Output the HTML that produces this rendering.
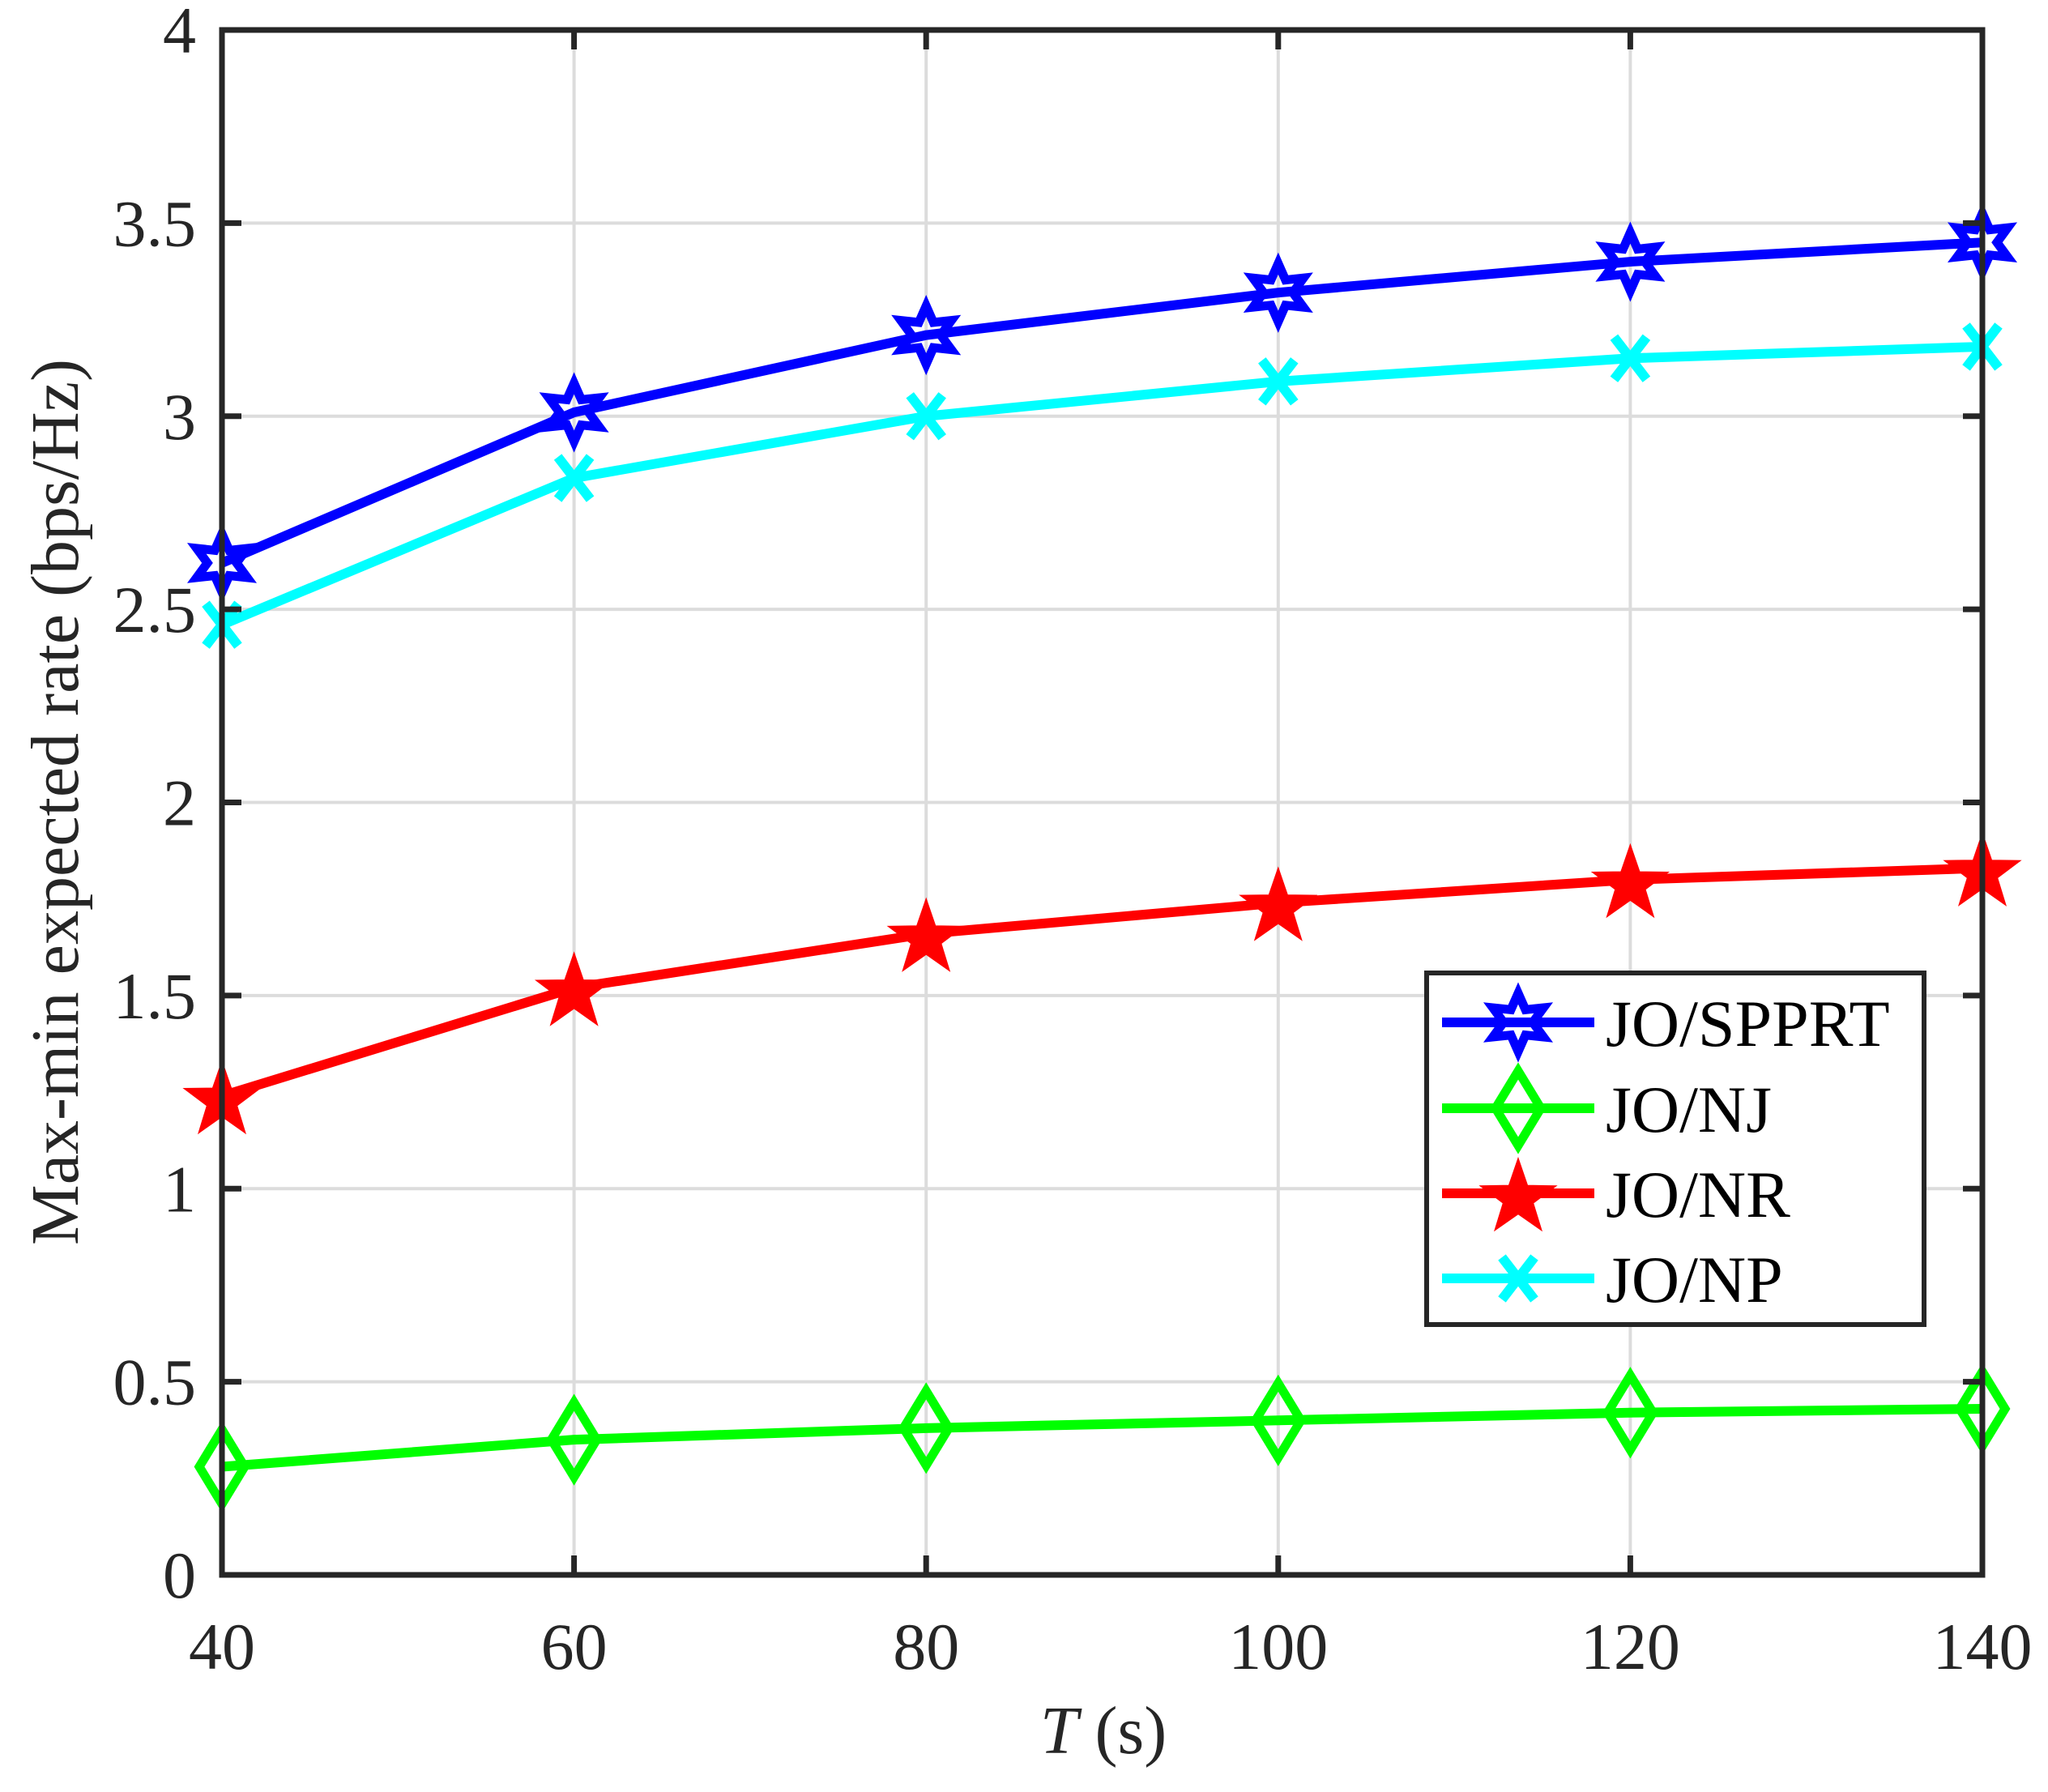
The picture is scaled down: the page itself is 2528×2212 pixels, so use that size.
<!DOCTYPE html>
<html><head><meta charset="utf-8"><style>
html,body{margin:0;padding:0;background:#fff;}
svg{display:block;}
text{font-family:"Liberation Serif","Times New Roman",serif;}
</style></head><body>
<svg id="chart" width="2528" height="2212" viewBox="0 0 2528 2212" xmlns="http://www.w3.org/2000/svg">
<rect width="2528" height="2212" fill="#fff"/>
<g id="grid"></g>
<g id="series"></g>
<g id="axes"></g>
<g id="legend"></g>
</svg>
<script>
const xValues = [40, 60, 80, 100, 120, 140];
const sppVals = [2.62, 3.01, 3.21, 3.32, 3.40, 3.45];
const njVals = [0.28, 0.35, 0.38, 0.40, 0.42, 0.43];
const nrVals = [1.24, 1.52, 1.66, 1.74, 1.80, 1.83];
const npVals = [2.46, 2.84, 3.00, 3.09, 3.15, 3.18];
const xTicks = [40, 60, 80, 100, 120, 140];
const yTicks = [0, 0.5, 1, 1.5, 2, 2.5, 3, 3.5, 4];
const yTickLabels = ["0", "0.5", "1", "1.5", "2", "2.5", "3", "3.5", "4"];
const seriesNames = ["JO/SPPRT", "JO/NJ", "JO/NR", "JO/NP"];

const L = 274, R = 2447, T = 37, B = 1944;
const xMin = 40, xMax = 140, yMin = 0, yMax = 4;
function xs(v){ return L + (v - xMin) / (xMax - xMin) * (R - L); }
function ys(v){ return B - (v - yMin) / (yMax - yMin) * (B - T); }
const NS = "http://www.w3.org/2000/svg";
const FF = '"Liberation Serif", "Times New Roman", serif';
function mk(tag, attrs, parent){
  const e = document.createElementNS(NS, tag);
  for (const k in attrs) e.setAttribute(k, attrs[k]);
  parent.appendChild(e); return e;
}
const grid = document.getElementById('grid');
const axes = document.getElementById('axes');
const seriesG = document.getElementById('series');
const legend = document.getElementById('legend');

xTicks.forEach(v => {
  const g = mk('line', {x1: xs(v), x2: xs(v), y1: T, y2: B, stroke: '#dcdcdc', 'stroke-width': 4}, grid);
  
  
});
yTicks.forEach(v => {
  const g = mk('line', {x1: L, x2: R, y1: ys(v), y2: ys(v), stroke: '#dcdcdc', 'stroke-width': 4}, grid);
  
  
});

function starPts(cx, cy, ro, ri, n, rot){
  const p = [];
  for (let i = 0; i < 2 * n; i++){
    const r = i % 2 === 0 ? ro : ri;
    const a = rot + i * Math.PI / n;
    p.push((cx + r * Math.sin(a)).toFixed(1) + ',' + (cy - r * Math.cos(a)).toFixed(1));
  }
  return p.join(' ');
}
function marker(type, cx, cy, color, parent){
  let m;
  if (type === 'hex'){
    m = mk('polygon', {points: starPts(cx, cy, 36, 18, 6, 0), fill: 'none', stroke: color, 'stroke-width': 11}, parent);
  } else if (type === 'diamond'){
    m = mk('polygon', {points: `${cx},${cy-46} ${cx+28},${cy} ${cx},${cy+46} ${cx-28},${cy}`, fill: 'none', stroke: color, 'stroke-width': 11}, parent);
  } else if (type === 'star'){
    m = mk('polygon', {points: starPts(cx, cy+6, 48, 19, 5, 0), fill: color, stroke: color, 'stroke-width': 2}, parent);
  } else {
    m = mk('path', {d: `M${cx-20},${cy-26}L${cx+20},${cy+26}M${cx+20},${cy-26}L${cx-20},${cy+26}`, stroke: color, 'stroke-width': 12, fill: 'none'}, parent);
  }
  return m;
}
const seriesData = [sppVals, njVals, nrVals, npVals];
const colors = ['#0000ff', '#00ff00', '#ff0000', '#00ffff'];
const mtypes = ['hex', 'diamond', 'star', 'x'];
const order = [1, 2, 3, 0];
order.forEach(si => {
  const g = mk('g', {}, seriesG);
  
  
  const vals = seriesData[si];
  const pts = vals.map((v, i) => xs(xValues[i]) + ',' + ys(v)).join(' ');
  const pl = mk('polyline', {points: pts, fill: 'none', stroke: colors[si], 'stroke-width': 12, 'stroke-linejoin': 'round'}, g);
  
  
  vals.forEach((v, i) => {
    const m = marker(mtypes[si], xs(xValues[i]), ys(v), colors[si], g);
    
    
  });
});

const box = mk('rect', {x: L, y: T, width: R - L, height: B - T, fill: 'none', stroke: '#262626', 'stroke-width': 7}, axes);


xTicks.forEach(v => {
  const t1 = mk('line', {x1: xs(v), x2: xs(v), y1: B, y2: B - 24, stroke: '#262626', 'stroke-width': 7}, axes);
  
  
  const t2 = mk('line', {x1: xs(v), x2: xs(v), y1: T, y2: T + 24, stroke: '#262626', 'stroke-width': 7}, axes);
  
  
  const lb = mk('text', {x: xs(v), y: 2060, 'text-anchor': 'middle', 'font-size': 82, 'font-family': FF, fill: '#262626'}, axes);
  lb.textContent = String(v);
  
  
});
yTicks.forEach((v, i) => {
  const t1 = mk('line', {x1: L, x2: L + 24, y1: ys(v), y2: ys(v), stroke: '#262626', 'stroke-width': 7}, axes);
  
  
  const t2 = mk('line', {x1: R, x2: R - 24, y1: ys(v), y2: ys(v), stroke: '#262626', 'stroke-width': 7}, axes);
  
  
  const lb = mk('text', {x: 242, y: ys(v) + 28, 'text-anchor': 'end', 'font-size': 82, 'font-family': FF, fill: '#262626'}, axes);
  lb.textContent = yTickLabels[i];
  
  
});
const yl = mk('text', {x: 0, y: 0, transform: 'translate(96,990) rotate(-90)', 'text-anchor': 'middle', 'font-size': 84, 'font-family': FF, fill: '#262626'}, axes);
yl.textContent = 'Max-min expected rate (bps/Hz)';


const xl = mk('text', {x: 1362, y: 2164, 'text-anchor': 'middle', 'font-size': 84, 'font-family': FF, fill: '#262626'}, axes);
xl.innerHTML = '<tspan font-style="italic">T</tspan> (s)';



const lb = mk('rect', {x: 1761, y: 1201, width: 614, height: 434, fill: '#fff', stroke: '#262626', 'stroke-width': 6}, legend);


const rowsY = [1262, 1368, 1473, 1578];
seriesNames.forEach((n, si) => {
  const g = mk('g', {}, legend);
  
  
  const y = rowsY[si];
  mk('line', {x1: 1780, x2: 1968, y1: y, y2: y, stroke: colors[si], 'stroke-width': 12}, g);
  marker(mtypes[si], 1874, y, colors[si], g);
  const t = mk('text', {x: 1982, y: y + 29, 'font-size': 82, 'font-family': FF, fill: '#000'}, g);
  t.textContent = n;
});
</script>
</body></html>
